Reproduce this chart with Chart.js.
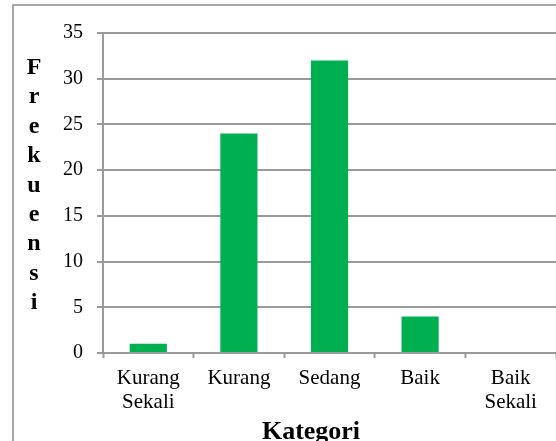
<!DOCTYPE html>
<html>
<head>
<meta charset="utf-8">
<script src="https://cdn.jsdelivr.net/npm/chart.js@4/dist/chart.umd.min.js"></script>
<style>
  html, body { margin: 0; padding: 0; background: #fff; }
  #wrap { position: relative; width: 556px; height: 441px; }
</style>
</head>
<body>
<div id="wrap"><canvas id="chart"></canvas></div>
<script>
// Data
const categories = [['Kurang', 'Sekali'], 'Kurang', 'Sedang', 'Baik', ['Baik', 'Sekali']];
const frekuensi = [1, 24, 32, 4, 0];
const yTitle = 'Frekuensi';
const xTitle = 'Kategori';

const serif = "'Liberation Serif', 'Times New Roman', serif";
const gridGray = '#9a9a9a';

// Frame lines, stacked y title and x title
const decorations = {
    id: 'decorations',
    afterDraw(chart) {
        const ctx = chart.ctx;
        ctx.save();
        ctx.strokeStyle = '#8c8c8c';
        ctx.lineWidth = 1.5;
        ctx.beginPath();
        ctx.moveTo(13, 441);
        ctx.lineTo(13, 5);
        ctx.lineTo(556, 5);
        ctx.stroke();

        ctx.fillStyle = '#000';
        ctx.font = 'bold 24px ' + serif;
        ctx.textAlign = 'center';
        ctx.textBaseline = 'alphabetic';
        yTitle.split('').forEach((ch, i) => {
            ctx.fillText(ch, 34, 74 + i * 29.4);
        });

        ctx.font = 'bold 26px ' + serif;
        ctx.fillText(xTitle, 311, 439);
        ctx.restore();
    }
};

new Chart(document.getElementById('chart'), {
    type: 'bar',
    data: {
        labels: categories,
        datasets: [{
            data: frekuensi,
            backgroundColor: '#00b050',
            borderWidth: 0,
            barPercentage: 0.41,
            categoryPercentage: 1
        }]
    },
    options: {
        responsive: true,
        maintainAspectRatio: false,
        animation: false,
        layout: { padding: { top: 33, left: 0, right: 0, bottom: 0 } },
        plugins: {
            legend: { display: false },
            tooltip: { enabled: false }
        },
        scales: {
            x: {
                offset: true,
                grid: {
                    offset: true,
                    drawOnChartArea: false,
                    drawTicks: true,
                    tickLength: 5,
                    tickColor: gridGray,
                    tickWidth: 2
                },
                border: { color: gridGray, width: 2 },
                ticks: {
                    color: '#000',
                    font: { family: serif, size: 21, lineHeight: 1.15 },
                    padding: 8,
                    maxRotation: 0,
                    autoSkip: false
                },
                afterFit(axis) { axis.height = 88; }
            },
            y: {
                min: 0,
                max: 35,
                grid: {
                    color: gridGray,
                    lineWidth: 2,
                    tickLength: 6
                },
                border: { color: gridGray, width: 2 },
                ticks: {
                    stepSize: 5,
                    color: '#000',
                    font: { family: serif, size: 20 },
                    padding: 14
                },
                afterFit(axis) { axis.width = 103; }
            }
        }
    },
    plugins: [decorations]
});
</script>
</body>
</html>
